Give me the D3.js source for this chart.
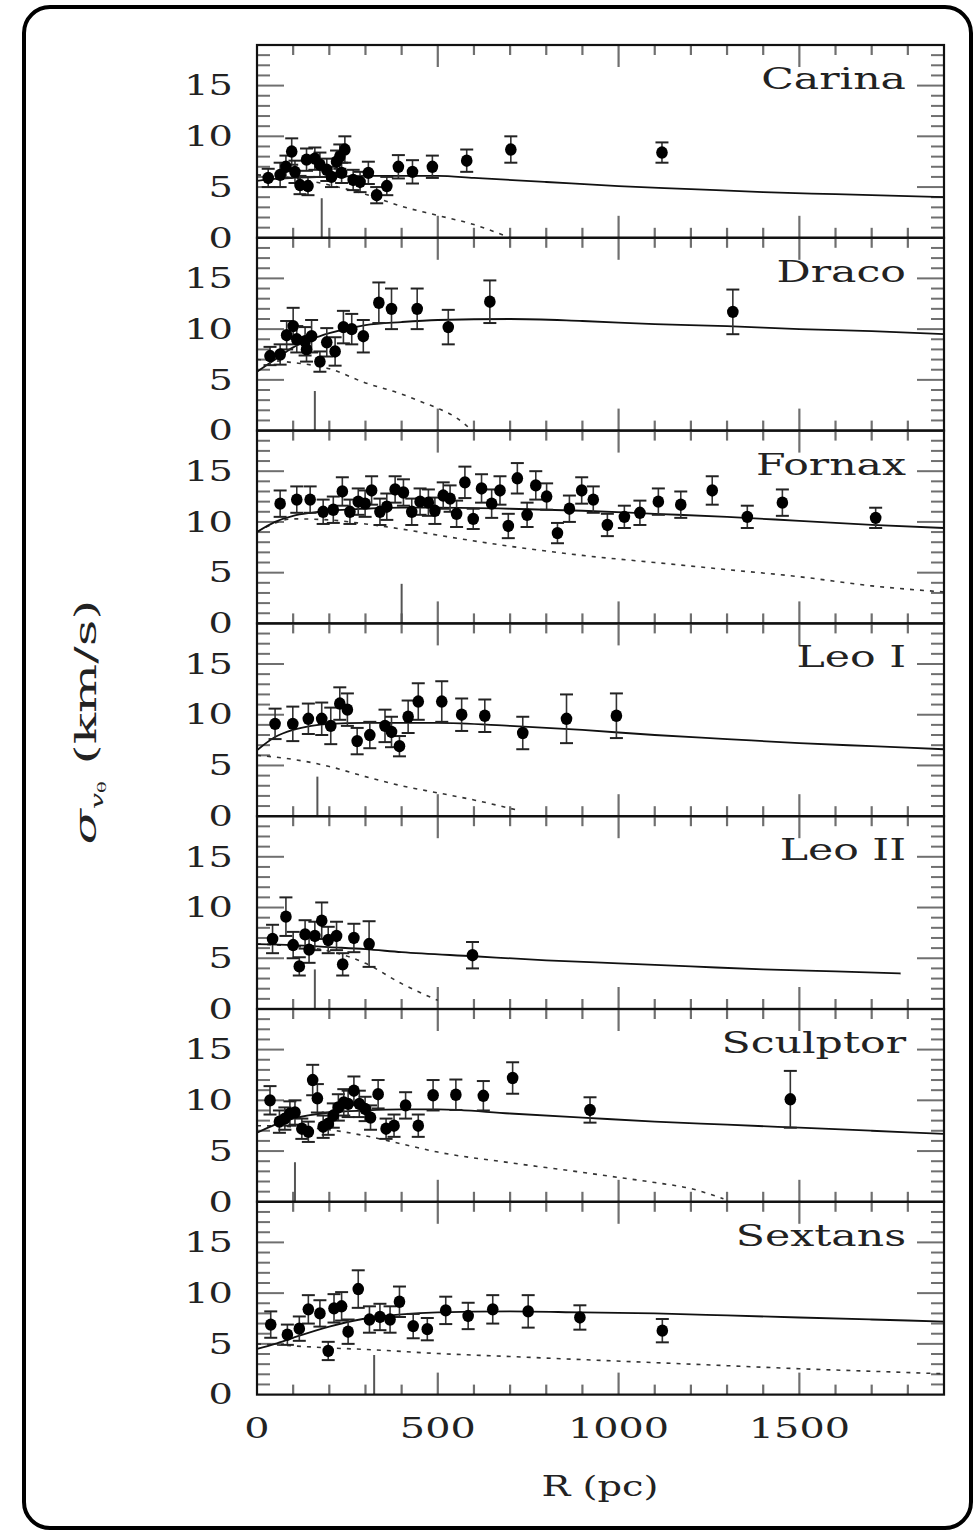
<!DOCTYPE html>
<html>
<head>
<meta charset="utf-8">
<script src="https://cdn.jsdelivr.net/npm/d3@7"></script>
<style>
  body { margin: 0; background: #fff; }
  text { font-family: "DejaVu Serif", "Liberation Serif", serif; fill: #222; }
</style>
</head>
<body>
<div id="chart"></div>
<script>
// panel names, top to bottom
var galaxyNames = ["Carina", "Draco", "Fornax", "Leo I", "Leo II", "Sculptor", "Sextans"];
// short vertical marker per galaxy (pc)
var markerR = [179, 160, 400, 167, 160, 105, 324];

// observed points: [R (pc), sigma (km/s), error]
var carinaPts = [[31,5.9,0.9],[64,6.2,1.2],[80,7.0,1.1],[96,8.5,1.3],[105,6.5,1.1],[119,5.2,0.9],[137,7.7,1.1],[141,5.1,0.9],[160,7.8,1.1],[174,7.2,1.2],[193,6.7,1.1],[206,6.0,1.0],[220,7.5,1.1],[229,8.0,1.2],[234,6.4,1.0],[243,8.7,1.3],[266,5.7,1.0],[285,5.5,1.0],[308,6.4,1.1],[331,4.2,0.8],[359,5.1,0.9],[391,7.0,1.15],[430,6.5,1.15],[485,7.0,1.1],[580,7.6,1.1],[702,8.7,1.3],[1120,8.4,1.0]];
var dracoPts = [[36,7.35,0.9],[64,7.5,1.0],[82,9.4,1.4],[100,10.3,1.8],[110,9.0,1.3],[133,8.8,1.4],[137,8.0,1.2],[151,9.3,1.6],[174,6.8,1.0],[193,8.7,1.4],[216,7.8,1.4],[239,10.2,1.6],[262,10.0,1.5],[294,9.3,1.6],[337,12.6,2.0],[372,12.0,2.0],[443,12.0,2.0],[529,10.2,1.7],[644,12.7,2.1],[1316,11.7,2.2]];
var fornaxPts = [[64,11.8,1.3],[110,12.2,1.3],[147,12.2,1.3],[183,11.0,1.2],[211,11.2,1.3],[236,13.0,1.4],[257,11.0,1.2],[280,12.0,1.3],[299,11.8,1.3],[317,13.1,1.4],[340,11.0,1.3],[359,11.5,1.3],[382,13.2,1.3],[405,12.9,1.3],[428,11.0,1.3],[451,12.0,1.3],[474,11.9,1.3],[492,11.1,1.3],[515,12.6,1.3],[534,12.3,1.3],[552,10.8,1.3],[575,13.9,1.55],[598,10.3,1.0],[621,13.3,1.4],[649,11.8,1.4],[672,13.1,1.4],[695,9.6,1.2],[720,14.3,1.5],[747,10.7,1.2],[771,13.6,1.4],[801,12.5,1.3],[831,8.9,1.0],[864,11.3,1.3],[898,13.1,1.3],[930,12.2,1.3],[969,9.7,1.1],[1016,10.5,1.1],[1059,10.9,1.2],[1110,12.0,1.3],[1172,11.7,1.3],[1259,13.1,1.4],[1356,10.5,1.1],[1453,11.9,1.3],[1711,10.4,1.0]];
var leoIPts = [[50,9.1,1.5],[99,9.1,1.7],[142,9.6,1.5],[179,9.6,1.6],[204,8.9,1.8],[229,11.1,1.6],[250,10.5,1.6],[277,7.4,1.3],[312,8.0,1.3],[354,8.9,1.6],[372,8.3,1.5],[394,6.9,1.0],[418,9.8,1.6],[446,11.3,1.8],[511,11.3,2.0],[566,10.0,1.6],[630,9.9,1.6],[735,8.2,1.6],[856,9.6,2.4],[994,9.9,2.2]];
var leoIIPts = [[43,6.9,1.4],[80,9.1,1.9],[100,6.3,1.3],[117,4.2,0.9],[133,7.35,1.4],[144,5.85,1.3],[160,7.2,1.4],[179,8.7,1.8],[197,6.8,1.3],[220,7.2,1.4],[237,4.4,1.1],[268,7.0,1.4],[310,6.4,2.25],[596,5.3,1.3]];
var sculptorPts = [[36,10.0,1.4],[62,7.9,1.1],[77,8.2,1.1],[91,8.7,1.2],[105,8.8,1.2],[124,7.2,1.0],[142,6.9,1.0],[154,12.0,1.5],[167,10.2,1.4],[183,7.4,1.1],[197,7.7,1.1],[211,8.5,1.2],[225,9.3,1.3],[240,9.8,1.3],[252,9.65,1.3],[268,10.95,1.4],[283,9.65,1.3],[299,9.15,1.2],[314,8.3,1.2],[335,10.6,1.4],[357,7.2,1.0],[379,7.5,1.1],[411,9.5,1.3],[446,7.5,1.1],[487,10.5,1.5],[550,10.55,1.5],[626,10.45,1.45],[707,12.2,1.55],[921,9.05,1.25],[1475,10.1,2.8]];
var sextansPts = [[38,6.9,1.3],[84,5.9,1.0],[117,6.5,1.2],[142,8.4,1.4],[174,8.0,1.3],[197,4.3,0.9],[213,8.5,1.4],[234,8.7,1.4],[252,6.2,1.2],[280,10.4,1.85],[311,7.4,1.3],[340,7.65,1.3],[368,7.4,1.3],[394,9.15,1.5],[432,6.75,1.2],[471,6.45,1.1],[522,8.3,1.35],[584,7.75,1.3],[652,8.4,1.4],[750,8.2,1.6],[893,7.6,1.2],[1121,6.3,1.15]];

// model curves: solid = total, dashed = stars only, [R, sigma]
var carinaFit = [[0,5.6],[50,5.8],[100,5.9],[200,6.0],[300,6.1],[400,6.1],[500,6.1],[600,5.9],[800,5.5],[1000,5.1],[1200,4.8],[1400,4.5],[1600,4.3],[1900,4.0]];
var carinaDash = [[0,6.2],[100,5.9],[200,5.2],[300,4.3],[400,3.1],[500,2.2],[600,1.3],[700,0]];
var dracoFit = [[0,5.8],[50,7.0],[100,8.2],[150,9.0],[200,9.6],[300,10.4],[400,10.7],[500,10.9],[700,11.0],[900,10.8],[1100,10.5],[1300,10.3],[1500,10.0],[1700,9.8],[1900,9.5]];
var dracoDash = [[0,7.0],[100,6.7],[200,6.1],[300,4.7],[400,3.6],[450,2.9],[500,2.2],[550,1.3],[595,0]];
var fornaxFit = [[0,9.0],[50,10.0],[100,10.6],[150,10.9],[200,11.1],[300,11.3],[400,11.4],[500,11.4],[700,11.3],[900,11.1],[1100,10.8],[1300,10.5],[1500,10.1],[1700,9.7],[1900,9.4]];
var fornaxDash = [[0,9.0],[100,10.3],[200,10.2],[300,9.8],[400,9.3],[500,8.7],[700,7.6],[900,6.7],[1100,6.0],[1300,5.3],[1500,4.6],[1700,3.7],[1900,3.1]];
var leoIFit = [[0,6.5],[50,7.8],[100,8.5],[150,8.9],[200,9.1],[300,9.2],[400,9.2],[500,9.2],[700,8.9],[900,8.5],[1100,8.0],[1300,7.6],[1500,7.2],[1700,6.9],[1900,6.6]];
var leoIDash = [[0,6.0],[100,5.6],[200,4.9],[300,3.9],[400,3.0],[500,2.3],[600,1.6],[720,0.6]];
var leoIIFit = [[0,6.4],[100,6.3],[200,6.1],[300,5.9],[400,5.6],[600,5.2],[800,4.8],[1000,4.5],[1200,4.2],[1400,3.9],[1600,3.7],[1780,3.5]];
var leoIIDash = [[0,6.4],[100,6.2],[200,5.7],[300,4.5],[400,2.5],[500,0.85]];
var sculptorFit = [[0,6.8],[50,7.6],[100,8.2],[200,8.8],[300,9.0],[400,9.1],[500,9.1],[700,8.7],[900,8.3],[1100,7.9],[1300,7.6],[1500,7.3],[1700,7.0],[1900,6.7]];
var sculptorDash = [[0,7.5],[100,7.4],[200,7.1],[300,6.5],[400,5.7],[500,4.9],[700,3.85],[900,2.9],[1000,2.4],[1100,1.9],[1200,1.3],[1290,0.3]];
var sextansFit = [[0,4.5],[50,5.0],[100,5.6],[200,6.7],[300,7.5],[400,7.9],[500,8.1],[700,8.2],[900,8.1],[1100,8.0],[1300,7.8],[1500,7.6],[1700,7.4],[1900,7.2]];
var sextansDash = [[0,5.0],[100,4.8],[200,4.6],[300,4.45],[500,4.05],[700,3.75],[900,3.45],[1100,3.15],[1300,2.85],[1500,2.55],[1700,2.3],[1900,2.05]];

var xTickLabels = [0, 500, 1000, 1500];
var yTickLabels = [0, 5, 10, 15];

var panels = [
  {name: galaxyNames[0], pts: carinaPts, fit: carinaFit, dash: carinaDash, mark: markerR[0]},
  {name: galaxyNames[1], pts: dracoPts, fit: dracoFit, dash: dracoDash, mark: markerR[1]},
  {name: galaxyNames[2], pts: fornaxPts, fit: fornaxFit, dash: fornaxDash, mark: markerR[2]},
  {name: galaxyNames[3], pts: leoIPts, fit: leoIFit, dash: leoIDash, mark: markerR[3]},
  {name: galaxyNames[4], pts: leoIIPts, fit: leoIIFit, dash: leoIIDash, mark: markerR[4]},
  {name: galaxyNames[5], pts: sculptorPts, fit: sculptorFit, dash: sculptorDash, mark: markerR[5]},
  {name: galaxyNames[6], pts: sextansPts, fit: sextansFit, dash: sextansDash, mark: markerR[6]}
];

var width = 976, height = 1531;
var plotLeft = 257, plotRight = 944, plotTop = 45, panelH = 192.8;
var SX = 1.42; // text in the original is stretched sideways

var svg = d3.select("#chart").append("svg")
    .attr("width", width)
    .attr("height", height);

// rounded outer frame
svg.append("rect")
    .attr("x", 24).attr("y", 7)
    .attr("width", 947).attr("height", 1521)
    .attr("rx", 26)
    .attr("fill", "none")
    .attr("stroke", "#000")
    .attr("stroke-width", 4);

var x = d3.scaleLinear().domain([0, 1900]).range([plotLeft, plotRight]);

function stretchedText(parent, px, py, str, size, anchor) {
    var g = parent.append("g")
        .attr("transform", "translate(" + px + "," + py + ") scale(" + SX + ",1)");
    return g.append("text")
        .attr("text-anchor", anchor)
        .attr("font-size", size)
        .text(str);
}

var line = d3.line()
    .x(function(d) { return x(d[0]); })
    .curve(d3.curveMonotoneX);

var tickColor = "#6f6f6f";

panels.forEach(function(p, i) {
    var y0 = plotTop + i * panelH;
    var y1 = y0 + panelH;
    var y = d3.scaleLinear().domain([0, 19]).range([y1, y0]);
    var g = svg.append("g").attr("class", "panel");

    // x ticks, top and bottom, inward
    d3.range(100, 1900, 100).forEach(function(r) {
        var len = (r % 500 === 0) ? 22 : 10;
        g.append("line")
            .attr("x1", x(r)).attr("x2", x(r))
            .attr("y1", y0).attr("y2", y0 + len)
            .attr("stroke", tickColor).attr("stroke-width", 2.2);
        g.append("line")
            .attr("x1", x(r)).attr("x2", x(r))
            .attr("y1", y1).attr("y2", y1 - len)
            .attr("stroke", tickColor).attr("stroke-width", 2.2);
    });

    // y ticks, left and right, inward
    d3.range(1, 19).forEach(function(v) {
        var len = (v % 5 === 0) ? 27 : 13;
        g.append("line")
            .attr("x1", plotLeft).attr("x2", plotLeft + len)
            .attr("y1", y(v)).attr("y2", y(v))
            .attr("stroke", tickColor).attr("stroke-width", 2);
        g.append("line")
            .attr("x1", plotRight).attr("x2", plotRight - len)
            .attr("y1", y(v)).attr("y2", y(v))
            .attr("stroke", tickColor).attr("stroke-width", 2);
    });

    // y tick labels
    yTickLabels.forEach(function(v) {
        stretchedText(svg, 233, y(v), v, 27, "end").attr("dy", "0.36em");
    });

    // marker line
    g.append("line")
        .attr("x1", x(p.mark)).attr("x2", x(p.mark))
        .attr("y1", y(0)).attr("y2", y(3.9))
        .attr("stroke", "#555").attr("stroke-width", 2);

    line.y(function(d) { return y(d[1]); });

    g.append("path")
        .attr("d", line(p.dash))
        .attr("fill", "none")
        .attr("stroke", "#333")
        .attr("stroke-width", 1.6)
        .attr("stroke-dasharray", "4,6");

    g.append("path")
        .attr("d", line(p.fit))
        .attr("fill", "none")
        .attr("stroke", "#111")
        .attr("stroke-width", 1.8);

    // error bars
    var bars = g.selectAll(".err").data(p.pts).enter().append("g").attr("class", "err");
    bars.append("line")
        .attr("x1", function(d) { return x(d[0]); })
        .attr("x2", function(d) { return x(d[0]); })
        .attr("y1", function(d) { return y(d[1] - d[2]); })
        .attr("y2", function(d) { return y(d[1] + d[2]); })
        .attr("stroke", "#333").attr("stroke-width", 1.6);
    [-1, 1].forEach(function(s) {
        bars.append("line")
            .attr("x1", function(d) { return x(d[0]) - 6.5; })
            .attr("x2", function(d) { return x(d[0]) + 6.5; })
            .attr("y1", function(d) { return y(d[1] + s * d[2]); })
            .attr("y2", function(d) { return y(d[1] + s * d[2]); })
            .attr("stroke", "#222").attr("stroke-width", 2);
    });

    g.selectAll(".dot").data(p.pts).enter().append("ellipse")
        .attr("class", "dot")
        .attr("cx", function(d) { return x(d[0]); })
        .attr("cy", function(d) { return y(d[1]); })
        .attr("rx", 5.8).attr("ry", 6.2)
        .attr("fill", "#000");

    // frame
    g.append("rect")
        .attr("x", plotLeft).attr("y", y0)
        .attr("width", plotRight - plotLeft).attr("height", panelH)
        .attr("fill", "none")
        .attr("stroke", "#111")
        .attr("stroke-width", 2.2);

    stretchedText(svg, 906, y0 + 44, p.name, 30, "end");
});

// x tick labels
var bottom = plotTop + 7 * panelH;
xTickLabels.forEach(function(r) {
    stretchedText(svg, x(r), bottom + 43, r, 28, "middle");
});

// axis titles
stretchedText(svg, 600, 1496, "R (pc)", 27, "middle");

var yt = svg.append("text")
    .attr("transform", "translate(96,722) rotate(-90)")
    .attr("text-anchor", "middle")
    .attr("font-size", 29)
    .attr("textLength", 245)
    .attr("lengthAdjust", "spacingAndGlyphs");
yt.append("tspan").attr("font-style", "italic").text("σ");
yt.append("tspan").attr("font-size", 16).attr("font-style", "italic").attr("dy", 7).text("v");
yt.append("tspan").attr("font-size", 11).attr("dy", 3).text("θ");
yt.append("tspan").attr("dy", -10).text(" (km/s)");
</script>
</body>
</html>
